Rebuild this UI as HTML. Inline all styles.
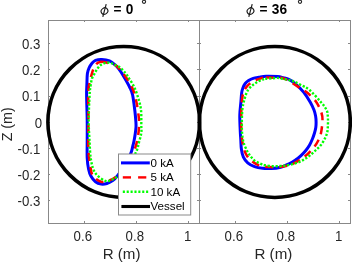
<!DOCTYPE html>
<html><head><meta charset="utf-8"><style>
html,body{margin:0;padding:0;background:#fff;width:352px;height:262px;overflow:hidden}
svg{display:block;will-change:transform}
text{font-family:"Liberation Sans",sans-serif;fill:#262626}
.tk{font-size:14.4px}
.lab{font-size:14.3px}
.lg{font-size:11.6px;fill:#000}
.ttl{font-size:14.4px;font-weight:bold;fill:#000}
.phi{font-family:"Liberation Serif",serif;font-style:italic;font-size:15px;fill:#000}
</style></head><body>
<svg width="352" height="262" viewBox="0 0 352 262">
<rect width="352" height="262" fill="#fff"/>
<rect x="48" y="20" width="151" height="203" fill="none" stroke="#888" stroke-width="1" shape-rendering="crispEdges"/>
<line x1="84.5" y1="223" x2="84.5" y2="221" stroke="#888"/>
<line x1="84.5" y1="20" x2="84.5" y2="22" stroke="#888"/>
<line x1="136.5" y1="223" x2="136.5" y2="221" stroke="#888"/>
<line x1="136.5" y1="20" x2="136.5" y2="22" stroke="#888"/>
<line x1="188.5" y1="223" x2="188.5" y2="221" stroke="#888"/>
<line x1="188.5" y1="20" x2="188.5" y2="22" stroke="#888"/>
<line x1="48" y1="200.5" x2="50" y2="200.5" stroke="#888"/>
<line x1="199" y1="200.5" x2="197" y2="200.5" stroke="#888"/>
<line x1="48" y1="174.5" x2="50" y2="174.5" stroke="#888"/>
<line x1="199" y1="174.5" x2="197" y2="174.5" stroke="#888"/>
<line x1="48" y1="148.5" x2="50" y2="148.5" stroke="#888"/>
<line x1="199" y1="148.5" x2="197" y2="148.5" stroke="#888"/>
<line x1="48" y1="122.5" x2="50" y2="122.5" stroke="#888"/>
<line x1="199" y1="122.5" x2="197" y2="122.5" stroke="#888"/>
<line x1="48" y1="96.5" x2="50" y2="96.5" stroke="#888"/>
<line x1="199" y1="96.5" x2="197" y2="96.5" stroke="#888"/>
<line x1="48" y1="69.5" x2="50" y2="69.5" stroke="#888"/>
<line x1="199" y1="69.5" x2="197" y2="69.5" stroke="#888"/>
<line x1="48" y1="43.5" x2="50" y2="43.5" stroke="#888"/>
<line x1="199" y1="43.5" x2="197" y2="43.5" stroke="#888"/>
<rect x="199" y="20" width="151" height="203" fill="none" stroke="#888" stroke-width="1" shape-rendering="crispEdges"/>
<line x1="235.5" y1="223" x2="235.5" y2="221" stroke="#888"/>
<line x1="235.5" y1="20" x2="235.5" y2="22" stroke="#888"/>
<line x1="287.5" y1="223" x2="287.5" y2="221" stroke="#888"/>
<line x1="287.5" y1="20" x2="287.5" y2="22" stroke="#888"/>
<line x1="339.5" y1="223" x2="339.5" y2="221" stroke="#888"/>
<line x1="339.5" y1="20" x2="339.5" y2="22" stroke="#888"/>
<line x1="199" y1="200.5" x2="201" y2="200.5" stroke="#888"/>
<line x1="350" y1="200.5" x2="348" y2="200.5" stroke="#888"/>
<line x1="199" y1="174.5" x2="201" y2="174.5" stroke="#888"/>
<line x1="350" y1="174.5" x2="348" y2="174.5" stroke="#888"/>
<line x1="199" y1="148.5" x2="201" y2="148.5" stroke="#888"/>
<line x1="350" y1="148.5" x2="348" y2="148.5" stroke="#888"/>
<line x1="199" y1="122.5" x2="201" y2="122.5" stroke="#888"/>
<line x1="350" y1="122.5" x2="348" y2="122.5" stroke="#888"/>
<line x1="199" y1="96.5" x2="201" y2="96.5" stroke="#888"/>
<line x1="350" y1="96.5" x2="348" y2="96.5" stroke="#888"/>
<line x1="199" y1="69.5" x2="201" y2="69.5" stroke="#888"/>
<line x1="350" y1="69.5" x2="348" y2="69.5" stroke="#888"/>
<line x1="199" y1="43.5" x2="201" y2="43.5" stroke="#888"/>
<line x1="350" y1="43.5" x2="348" y2="43.5" stroke="#888"/>
<ellipse cx="123.75" cy="122" rx="75.85" ry="75.5" fill="none" stroke="#000" stroke-width="3.6"/>
<ellipse cx="274.85" cy="122" rx="75.45" ry="75.5" fill="none" stroke="#000" stroke-width="3.6"/>
<path d="M101.80,59.40 C104.13,59.50 107.27,59.98 109.50,60.90 C111.73,61.82 113.68,63.60 115.20,64.90 C116.72,66.20 117.30,66.97 118.60,68.70 C119.90,70.43 121.13,72.17 123.00,75.30 C124.87,78.43 128.20,84.22 129.80,87.50 C131.40,90.78 131.77,91.20 132.60,95.00 C133.43,98.80 134.25,105.80 134.80,110.30 C135.35,114.80 135.70,119.22 135.90,122.00 C136.10,124.78 136.12,125.00 136.00,127.00 C135.88,129.00 135.53,131.67 135.20,134.00 C134.87,136.33 134.43,138.87 134.00,141.00 C133.57,143.13 133.12,144.78 132.60,146.80 C132.08,148.82 132.25,149.90 130.90,153.10 C129.55,156.30 126.77,162.18 124.50,166.00 C122.23,169.82 119.27,173.57 117.30,176.00 C115.33,178.43 114.43,179.35 112.70,180.60 C110.97,181.85 108.82,182.92 106.90,183.50 C104.98,184.08 103.10,184.38 101.20,184.10 C99.30,183.82 97.22,183.15 95.50,181.80 C93.78,180.45 92.05,178.10 90.90,176.00 C89.75,173.90 89.22,172.20 88.60,169.20 C87.98,166.20 87.43,162.87 87.20,158.00 C86.97,153.13 87.20,146.33 87.20,140.00 C87.20,133.67 87.30,127.50 87.20,120.00 C87.10,112.50 86.65,101.00 86.60,95.00 C86.55,89.00 86.77,87.58 86.90,84.00 C87.03,80.42 87.02,76.22 87.40,73.50 C87.78,70.78 88.43,69.42 89.20,67.70 C89.97,65.98 90.95,64.43 92.00,63.20 C93.05,61.97 93.87,60.93 95.50,60.30 C97.13,59.67 99.47,59.30 101.80,59.40Z" fill="none" stroke="#0000ff" stroke-width="3"/>
<path d="M100.30,61.90 C103.22,61.60 109.70,63.43 112.50,64.20 C115.30,64.97 115.10,64.65 117.10,66.50 C119.10,68.35 122.00,71.80 124.50,75.30 C127.00,78.80 130.18,83.38 132.10,87.50 C134.02,91.62 134.93,95.42 136.00,100.00 C137.07,104.58 137.98,110.83 138.50,115.00 C139.02,119.17 139.27,120.97 139.10,125.00 C138.93,129.03 138.48,134.55 137.50,139.20 C136.52,143.85 135.28,148.27 133.20,152.90 C131.12,157.53 127.70,163.15 125.00,167.00 C122.30,170.85 119.67,173.75 117.00,176.00 C114.33,178.25 111.68,179.55 109.00,180.50 C106.32,181.45 103.57,182.45 100.90,181.70 C98.23,180.95 94.73,178.42 93.00,176.00 C91.27,173.58 91.27,171.53 90.50,167.20 C89.73,162.87 88.75,156.20 88.40,150.00 C88.05,143.80 88.40,136.67 88.40,130.00 C88.40,123.33 88.40,116.65 88.40,110.00 C88.40,103.35 87.88,95.97 88.40,90.10 C88.92,84.23 90.40,78.82 91.50,74.80 C92.60,70.78 93.53,68.15 95.00,66.00 C96.47,63.85 97.38,62.20 100.30,61.90Z" fill="none" stroke="#ff0000" stroke-width="2.5" stroke-dasharray="8 6"/>
<path d="M107.20,62.60 C108.53,62.52 109.97,62.82 111.20,63.20 C112.43,63.58 113.47,64.38 114.60,64.90 C115.73,65.42 116.95,65.73 118.00,66.30 C119.05,66.87 119.93,67.48 120.90,68.30 C121.87,69.12 122.87,70.17 123.80,71.20 C124.73,72.23 125.55,73.20 126.50,74.50 C127.45,75.80 128.18,76.83 129.50,79.00 C130.82,81.17 132.95,84.33 134.40,87.50 C135.85,90.67 137.10,94.25 138.20,98.00 C139.30,101.75 140.48,105.42 141.00,110.00 C141.52,114.58 141.25,121.67 141.30,125.50 C141.35,129.33 141.68,130.22 141.30,133.00 C140.92,135.78 139.83,139.13 139.00,142.20 C138.17,145.27 138.13,147.43 136.30,151.40 C134.47,155.37 131.05,161.90 128.00,166.00 C124.95,170.10 120.83,173.67 118.00,176.00 C115.17,178.33 113.10,179.18 111.00,180.00 C108.90,180.82 107.98,182.02 105.40,180.90 C102.82,179.78 97.90,176.78 95.50,173.30 C93.10,169.82 92.00,165.55 91.00,160.00 C90.00,154.45 89.88,146.67 89.50,140.00 C89.12,133.33 88.68,127.50 88.70,120.00 C88.72,112.50 89.28,100.75 89.60,95.00 C89.92,89.25 90.20,88.23 90.60,85.50 C91.00,82.77 91.48,80.32 92.00,78.60 C92.52,76.88 93.12,76.33 93.70,75.20 C94.28,74.07 94.87,72.92 95.50,71.80 C96.13,70.68 96.75,69.55 97.50,68.50 C98.25,67.45 99.05,66.30 100.00,65.50 C100.95,64.70 102.00,64.18 103.20,63.70 C104.40,63.22 105.87,62.68 107.20,62.60Z" fill="none" stroke="#00ff00" stroke-width="2.4" stroke-dasharray="2.2 1.7"/>
<path d="M266.00,76.30 C269.10,76.20 274.63,76.37 277.50,76.60 C280.37,76.83 281.30,77.23 283.20,77.70 C285.10,78.17 286.77,78.30 288.90,79.40 C291.03,80.50 293.55,82.18 296.00,84.30 C298.45,86.42 301.22,89.12 303.60,92.10 C305.98,95.08 308.57,99.22 310.30,102.20 C312.03,105.18 313.12,107.70 314.00,110.00 C314.88,112.30 315.25,114.00 315.60,116.00 C315.95,118.00 316.07,120.08 316.10,122.00 C316.13,123.92 316.07,125.67 315.80,127.50 C315.53,129.33 315.07,131.08 314.50,133.00 C313.93,134.92 313.22,137.00 312.40,139.00 C311.58,141.00 310.70,143.08 309.60,145.00 C308.50,146.92 307.23,148.73 305.80,150.50 C304.37,152.27 302.67,154.05 301.00,155.60 C299.33,157.15 297.72,158.47 295.80,159.80 C293.88,161.13 292.20,162.32 289.50,163.60 C286.80,164.88 282.85,166.68 279.60,167.50 C276.35,168.32 272.83,168.37 270.00,168.50 C267.17,168.63 265.17,168.62 262.60,168.30 C260.03,167.98 257.08,167.52 254.60,166.60 C252.12,165.68 249.57,164.37 247.70,162.80 C245.83,161.23 244.45,159.47 243.40,157.20 C242.35,154.93 241.83,152.07 241.40,149.20 C240.97,146.33 241.00,143.20 240.80,140.00 C240.60,136.80 240.37,134.17 240.20,130.00 C240.03,125.83 239.68,119.67 239.80,115.00 C239.92,110.33 240.58,105.73 240.90,102.00 C241.22,98.27 241.37,94.93 241.70,92.60 C242.03,90.27 242.32,89.52 242.90,88.00 C243.48,86.48 244.25,84.73 245.20,83.50 C246.15,82.27 247.27,81.47 248.60,80.60 C249.93,79.73 251.48,78.87 253.20,78.30 C254.92,77.73 256.77,77.53 258.90,77.20 C261.03,76.87 262.90,76.40 266.00,76.30Z" fill="none" stroke="#0000ff" stroke-width="3"/>
<path d="M266.00,77.50 C268.83,77.37 273.83,77.58 277.00,77.80 C280.17,78.02 281.08,77.05 285.00,78.80 C288.92,80.55 296.63,85.85 300.50,88.30 C304.37,90.75 305.55,91.18 308.20,93.50 C310.85,95.82 314.18,98.95 316.40,102.20 C318.62,105.45 320.48,110.03 321.50,113.00 C322.52,115.97 322.58,116.67 322.50,120.00 C322.42,123.33 321.75,129.50 321.00,133.00 C320.25,136.50 319.23,138.57 318.00,141.00 C316.77,143.43 315.77,145.07 313.60,147.60 C311.43,150.13 308.77,153.37 305.00,156.20 C301.23,159.03 296.00,162.77 291.00,164.60 C286.00,166.43 280.42,167.12 275.00,167.20 C269.58,167.28 263.15,166.97 258.50,165.10 C253.85,163.23 249.85,160.32 247.10,156.00 C244.35,151.68 242.97,146.85 242.00,139.20 C241.03,131.55 241.20,117.30 241.30,110.10 C241.40,102.90 242.02,99.43 242.60,96.00 C243.18,92.57 243.77,91.43 244.80,89.50 C245.83,87.57 247.22,85.83 248.80,84.40 C250.38,82.97 252.43,81.87 254.30,80.90 C256.17,79.93 258.05,79.17 260.00,78.60 C261.95,78.03 263.17,77.63 266.00,77.50Z" fill="none" stroke="#ff0000" stroke-width="2.5" stroke-dasharray="8 6"/>
<path d="M265.20,78.90 C266.97,78.65 270.85,78.47 272.90,78.30 C274.95,78.13 275.78,77.80 277.50,77.90 C279.22,78.00 281.30,78.55 283.20,78.90 C285.10,79.25 287.18,79.60 288.90,80.00 C290.62,80.40 291.57,80.50 293.50,81.30 C295.43,82.10 297.83,83.35 300.50,84.80 C303.17,86.25 306.08,87.10 309.50,90.00 C312.92,92.90 318.15,98.87 321.00,102.20 C323.85,105.53 325.47,107.70 326.60,110.00 C327.73,112.30 327.57,114.08 327.80,116.00 C328.03,117.92 328.00,119.63 328.00,121.50 C328.00,123.37 327.93,125.37 327.80,127.20 C327.67,129.03 327.67,130.65 327.20,132.50 C326.73,134.35 326.03,136.22 325.00,138.30 C323.97,140.38 322.50,143.05 321.00,145.00 C319.50,146.95 317.75,148.33 316.00,150.00 C314.25,151.67 312.25,153.58 310.50,155.00 C308.75,156.42 307.33,157.35 305.50,158.50 C303.67,159.65 301.67,160.95 299.50,161.90 C297.33,162.85 294.75,163.62 292.50,164.20 C290.25,164.78 288.00,165.10 286.00,165.40 C284.00,165.70 282.68,165.87 280.50,166.00 C278.32,166.13 275.48,166.32 272.90,166.20 C270.32,166.08 266.90,165.63 265.00,165.30 C263.10,164.97 262.67,164.67 261.50,164.20 C260.33,163.73 259.15,163.10 258.00,162.50 C256.85,161.90 255.63,161.38 254.60,160.60 C253.57,159.82 252.65,158.75 251.80,157.80 C250.95,156.85 250.18,155.87 249.50,154.90 C248.82,153.93 248.28,153.05 247.70,152.00 C247.12,150.95 246.57,149.83 246.00,148.60 C245.43,147.37 244.77,145.85 244.30,144.60 C243.83,143.35 243.60,143.53 243.20,141.10 C242.80,138.67 242.05,135.17 241.90,130.00 C241.75,124.83 241.85,115.28 242.30,110.10 C242.75,104.92 243.83,101.92 244.60,98.90 C245.37,95.88 246.13,93.72 246.90,92.00 C247.67,90.28 248.35,89.65 249.20,88.60 C250.05,87.55 251.05,86.55 252.00,85.70 C252.95,84.85 253.85,84.25 254.90,83.50 C255.95,82.75 257.07,81.82 258.30,81.20 C259.53,80.58 261.15,80.18 262.30,79.80 C263.45,79.42 263.43,79.15 265.20,78.90Z" fill="none" stroke="#00ff00" stroke-width="2.4" stroke-dasharray="2.2 1.7"/>
<text transform="translate(82.8,241.1) scale(0.92,1)" text-anchor="middle" class="tk">0.6</text>
<text transform="translate(134.8,241.1) scale(0.92,1)" text-anchor="middle" class="tk">0.8</text>
<text transform="translate(187.8,241.1) scale(0.92,1)" text-anchor="middle" class="tk">1</text>
<text transform="translate(233.8,241.1) scale(0.92,1)" text-anchor="middle" class="tk">0.6</text>
<text transform="translate(285.8,241.1) scale(0.92,1)" text-anchor="middle" class="tk">0.8</text>
<text transform="translate(338.8,241.1) scale(0.92,1)" text-anchor="middle" class="tk">1</text>
<text transform="translate(40.4,206.0) scale(0.92,1)" text-anchor="end" class="tk">-0.3</text>
<text transform="translate(40.4,179.8) scale(0.92,1)" text-anchor="end" class="tk">-0.2</text>
<text transform="translate(40.4,153.7) scale(0.92,1)" text-anchor="end" class="tk">-0.1</text>
<text transform="translate(42.2,127.5) scale(0.92,1)" text-anchor="end" class="tk">0</text>
<text transform="translate(40.4,101.3) scale(0.92,1)" text-anchor="end" class="tk">0.1</text>
<text transform="translate(40.4,75.2) scale(0.92,1)" text-anchor="end" class="tk">0.2</text>
<text transform="translate(40.4,49.0) scale(0.92,1)" text-anchor="end" class="tk">0.3</text>
<text transform="translate(121.6,259) scale(1.06,1)" text-anchor="middle" class="lab">R (m)</text>
<text transform="translate(273.4,259) scale(1.06,1)" text-anchor="middle" class="lab">R (m)</text>
<text transform="translate(11.8,124.3) rotate(-90)" text-anchor="middle" class="lab">Z (m)</text>
<g transform="translate(0,0)" stroke="#1a1a1a" fill="none" stroke-width="1.15"><ellipse cx="104.5" cy="11.1" rx="3.45" ry="3.05" transform="rotate(-35 104.5 11.1)"/><line x1="106.2" y1="4.2" x2="102.8" y2="16.9"/></g><text transform="translate(113.6,14.1) scale(0.95,1)" class="ttl">=</text><text transform="translate(125.7,14.1) scale(0.95,1)" class="ttl">0</text><circle cx="144.0" cy="1.8" r="1.6" fill="none" stroke="#262626" stroke-width="1.1"/>
<g transform="translate(146,0)" stroke="#1a1a1a" fill="none" stroke-width="1.15"><ellipse cx="104.5" cy="11.1" rx="3.45" ry="3.05" transform="rotate(-35 104.5 11.1)"/><line x1="106.2" y1="4.2" x2="102.8" y2="16.9"/></g><text transform="translate(259.6,14.1) scale(0.95,1)" class="ttl">=</text><text transform="translate(271.8,14.1) scale(0.95,1)" class="ttl">36</text><circle cx="300.0" cy="1.8" r="1.6" fill="none" stroke="#262626" stroke-width="1.1"/>
<rect x="118.5" y="154" width="72.2" height="61" fill="#fff" stroke="#8a8a8a" stroke-width="1"/>
<line x1="121" y1="162.9" x2="149.8" y2="162.9" stroke="#0000ff" stroke-width="3"/>
<line x1="122.8" y1="177.4" x2="131" y2="177.4" stroke="#ff0000" stroke-width="2.4"/>
<line x1="138.1" y1="177.4" x2="146.3" y2="177.4" stroke="#ff0000" stroke-width="2.4"/>
<line x1="122.8" y1="191.8" x2="148.3" y2="191.8" stroke="#00ff00" stroke-width="2.4" stroke-dasharray="2.1 1.78"/>
<line x1="121.4" y1="206.5" x2="150" y2="206.5" stroke="#000" stroke-width="3.1"/>
<text x="150.5" y="166.9" class="lg">0 kA</text>
<text x="150.5" y="181.1" class="lg">5 kA</text>
<text x="150.5" y="196.2" class="lg">10 kA</text>
<text x="150.5" y="209.7" class="lg">Vessel</text>
</svg>
</body></html>
